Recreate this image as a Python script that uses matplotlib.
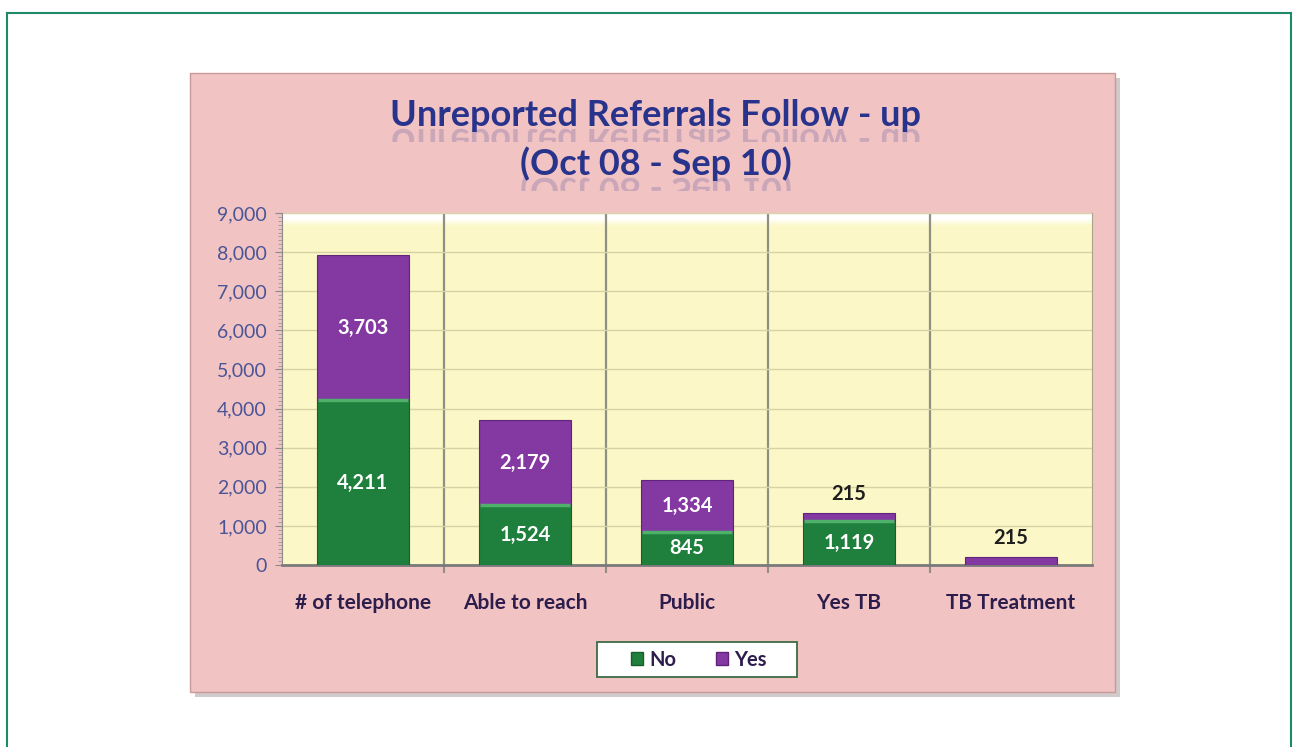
import numpy as np
import matplotlib
matplotlib.use("Agg")
import matplotlib.pyplot as plt
from matplotlib.patches import Rectangle, PathPatch, Patch
from matplotlib.textpath import TextPath
from matplotlib.font_manager import FontProperties
from matplotlib.transforms import Affine2D, IdentityTransform, Bbox
from matplotlib.ticker import MultipleLocator, FuncFormatter

# data
categories = ["# of telephone", "Able to reach", "Public", "Yes TB", "TB Treatment"]
no_vals = [4211, 1524, 845, 1119, 0]
yes_vals = [3703, 2179, 1334, 215, 215]
series_names = ["No", "Yes"]
title_lines = ["Unreported Referrals Follow - up", "(Oct 08 - Sep 10)"]
y_max = 9000
y_step = 1000

plt.rcParams["font.family"] = ["Lato", "DejaVu Sans"]

W, H = 1298, 747
fig = plt.figure(figsize=(W / 100, H / 100), dpi=100)
fig.patch.set_facecolor("white")


def fx(x):
    return x / W


def fy(y):
    return 1 - y / H


# outer frame of the page
border = "#1f8a6a"
fig.add_artist(plt.Line2D([fx(7), fx(1291)], [fy(13), fy(13)], color=border, lw=1.5, zorder=-5))
fig.add_artist(plt.Line2D([fx(7), fx(7)], [fy(13), 0], color=border, lw=1.5, zorder=-5))
fig.add_artist(plt.Line2D([fx(1291), fx(1291)], [fy(13), 0], color=border, lw=1.5, zorder=-5))

# pink chart box with shadow
bx0, by0, bx1, by1 = 190, 73, 1115, 692
fig.add_artist(Rectangle((fx(bx0 + 5), fy(by1 + 5)), (bx1 - bx0) / W, (by1 - by0) / H,
                         transform=fig.transFigure, facecolor="#9a8a8a", alpha=0.45,
                         edgecolor="none", zorder=-3))
fig.add_artist(Rectangle((fx(bx0), fy(by1)), (bx1 - bx0) / W, (by1 - by0) / H,
                         transform=fig.transFigure, facecolor="#f2c3c3",
                         edgecolor="#c99a9a", lw=1, zorder=-2))

# title + faint reflection
title_color = "#28338c"
fp = FontProperties(family="Lato", weight="bold", size=26)
k = 100 / 72
for line, base in zip(title_lines, [126, 175]):
    fig.text(fx(656), fy(base), line, ha="center", va="baseline",
             fontproperties=fp, color=title_color, zorder=3)
    tp = TextPath((0, 0), line, prop=fp)
    ext = tp.get_extents()
    x0 = 656 - ext.width * k / 2 - ext.x0 * k
    yb = H - base
    tr = Affine2D().scale(k, -k).translate(x0, yb - 3)
    pp = PathPatch(tp, transform=tr + IdentityTransform(), facecolor=title_color,
                   edgecolor="none", alpha=0.2, zorder=2)
    pp.set_clip_box(Bbox.from_extents(0, yb - 16, W, yb - 2))
    pp.set_clip_on(True)
    fig.add_artist(pp)

# plot area
ax = fig.add_axes([fx(282), fy(565), (1092 - 282) / W, (565 - 213) / H])
ax.set_facecolor("#fbf7c6")
grad = np.ones((352, 1, 4))
grad[..., :3] = matplotlib.colors.to_rgb("#fbf7c6")
ramp = np.clip((np.arange(14) - 5) / 8, 0, 1)[:, None]
grad[:14, 0, :3] = (1 - ramp) * 1.0 + ramp * np.array(matplotlib.colors.to_rgb("#fbf7c6"))
ax.imshow(grad, extent=(0, 1, 0, 1), transform=ax.transAxes, aspect="auto", zorder=0)

x = np.arange(len(categories))
width = 0.57
green = "#1f7f3c"
purple = "#8338a2"
ax.bar(x, no_vals, width, color=green, edgecolor="#16602c", lw=0.8, zorder=3,
       label=series_names[0])
ax.bar(x, yes_vals, width, bottom=no_vals, color=purple, edgecolor="#62247a", lw=0.8,
       zorder=3, label=series_names[1])
for xi, n in zip(x, no_vals):
    if n > 0:
        ax.plot([xi - width / 2 + 0.01, xi + width / 2 - 0.01], [n, n], color="#4fb06a",
                lw=2.5, zorder=4, solid_capstyle="butt")

for xi, n, yv in zip(x, no_vals, yes_vals):
    if n > 0:
        ax.text(xi, n / 2, f"{n:,}", ha="center", va="center", color="white",
                fontsize=14.5, fontweight="bold", zorder=5)
    if yv > 700:
        ax.text(xi, n + yv / 2, f"{yv:,}", ha="center", va="center", color="white",
                fontsize=14.5, fontweight="bold", zorder=5)
    else:
        ax.annotate(f"{yv:,}", (xi, n + yv), xytext=(0, 6), textcoords="offset points",
                    ha="center", va="bottom", color="#1e1e1e", fontsize=14.5,
                    fontweight="bold", zorder=5)

ax.set_xlim(-0.5, len(categories) - 0.5)
ax.set_ylim(0, y_max)
ax.yaxis.set_major_locator(MultipleLocator(y_step))
ax.yaxis.set_minor_locator(MultipleLocator(y_step / 10))
ax.yaxis.set_major_formatter(FuncFormatter(lambda v, p: f"{v:,.0f}"))
ax.tick_params(axis="y", which="major", length=5, color="#8a8a8a", labelsize=14,
               labelcolor="#4a5597", pad=6)
ax.tick_params(axis="y", which="minor", length=3, color="#9a9a9a")
ax.set_xticks(x)
ax.set_xticklabels(categories, fontsize=15, fontweight="bold", color="#2d1d4d")
ax.tick_params(axis="x", which="major", length=0, pad=20)
ax.set_xticks(x[:-1] + 0.5, minor=True)
ax.tick_params(axis="x", which="minor", length=6, color="#8f8f84", width=1.5)
ax.yaxis.grid(True, which="major", color="#d8d3a6", lw=1)
ax.xaxis.grid(True, which="minor", color="#8f8f84", lw=1.6)
ax.set_axisbelow(True)
ax.spines["top"].set_visible(False)
ax.spines["left"].set_color("#8a8a8a")
ax.spines["right"].set_color("#a8a58a")
ax.spines["bottom"].set_color("#7a7a7a")
ax.spines["bottom"].set_linewidth(2)

# legend: white box drawn separately, entries centred in it
fig.add_artist(Rectangle((fx(597), fy(677)), 200 / W, 35 / H, transform=fig.transFigure,
                         facecolor="white", edgecolor="#3d6b45", lw=1.3, zorder=4))
handles = [Patch(facecolor=green, edgecolor="#16602c"), Patch(facecolor=purple, edgecolor="#62247a")]
leg = fig.legend(handles, series_names, loc="center", bbox_to_anchor=(fx(699), fy(659.5)),
                 ncol=2, frameon=False, handlelength=0.6, handleheight=0.6,
                 handletextpad=0.3, columnspacing=2.0, borderpad=0.2,
                 prop=FontProperties(family="Lato", weight="bold", size=14.5))
leg.set_zorder(5)
for t in leg.get_texts():
    t.set_color("#2d1d4d")

fig.savefig("out.png", dpi=100, facecolor="white")
